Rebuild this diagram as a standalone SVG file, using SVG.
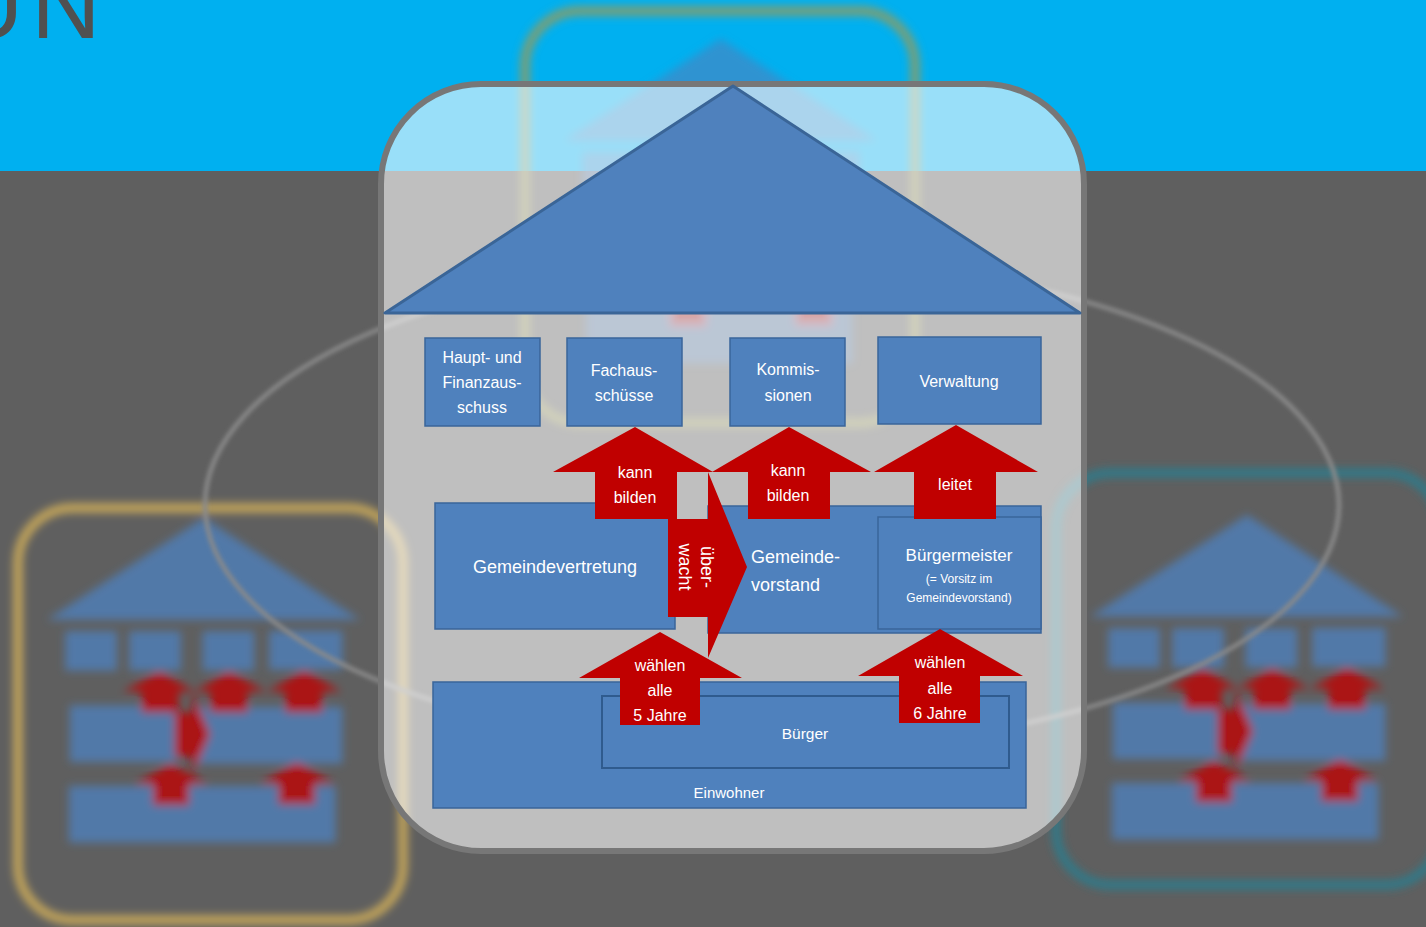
<svg xmlns="http://www.w3.org/2000/svg" width="1426" height="927" viewBox="0 0 1426 927">
<defs>
<style>
.box{fill:#4F81BD;stroke:#3A659A;stroke-width:1.5}
.inner{fill:#4F81BD;stroke:#2F5B8E;stroke-width:2}
.arrow{fill:#C00000}
.lbl{font-family:'Liberation Sans',Arial,sans-serif;fill:#FFFFFF;text-anchor:middle}
.mbox{fill:#4F81BD}
.marrow{fill:#C00000}
</style>
<filter id="blurS" x="-10%" y="-10%" width="120%" height="120%"><feGaussianBlur stdDeviation="4.5"/></filter>
<filter id="blurL" x="-5%" y="-5%" width="110%" height="110%"><feGaussianBlur stdDeviation="2"/></filter>
<g id="mini">
<polygon class="mbox" points="733,86 385,313 1080,313"/>
<rect class="mbox" x="425" y="338" width="115" height="88"/>
<rect class="mbox" x="567" y="338" width="115" height="88"/>
<rect class="mbox" x="730" y="338" width="115" height="88"/>
<rect class="mbox" x="878" y="337" width="163" height="87"/>
<rect class="mbox" x="435" y="503" width="240" height="126"/>
<rect class="mbox" x="708" y="506" width="333" height="127"/>
<rect class="mbox" x="433" y="682" width="593" height="126"/>
<polygon class="marrow" points="635,427 713,472 677,472 677,519 595,519 595,472 553,472"/>
<polygon class="marrow" points="789,427 871,472 830,472 830,519 748,519 748,472 712,472"/>
<polygon class="marrow" points="956,425 1038,472 996,472 996,519 914,519 914,472 874,472"/>
<polygon class="marrow" points="668,519 708,519 708,472 747,567 708,658 708,617 668,617"/>
<polygon class="marrow" points="660,632 742,678 700,678 700,725 620,725 620,678 579,678"/>
<polygon class="marrow" points="940,629 1023,676 980,676 980,723 899,723 899,676 858,676"/>
</g>
</defs>

<g id="background">
<rect x="0" y="0" width="1426" height="927" fill="#5F5F5F"/>
<rect x="0" y="0" width="1426" height="171" fill="#00B0F0"/>
<text x="-46" y="38" font-family="'Liberation Sans',Arial,sans-serif" font-size="96" letter-spacing="8" fill="#505050">UN</text>
</g>

<g id="card-top" filter="url(#blurS)">
<use href="#mini" transform="translate(391,0) scale(0.45)" opacity="0.6"/>
<rect x="525" y="11" width="390" height="412" rx="55" fill="none" stroke="#9A9A55" stroke-width="9" opacity="0.85"/>
</g>
<g id="card-left" filter="url(#blurS)">
<use href="#mini" transform="translate(-126,479) scale(0.45)" opacity="0.78"/>
<rect x="18" y="508" width="385" height="412" rx="55" fill="none" stroke="#C8A85A" stroke-width="9"/>
</g>
<g id="card-right" filter="url(#blurS)">
<use href="#mini" transform="translate(917,476) scale(0.45)" opacity="0.78"/>
<rect x="1056" y="473" width="385" height="412" rx="55" fill="none" stroke="#2D7A8A" stroke-width="9"/>
</g>
<ellipse id="orbit" cx="772" cy="505" rx="567" ry="244" fill="none" stroke="#8A8A8A" stroke-width="4.5" filter="url(#blurL)"/>

<g id="card-main">
<rect x="381" y="84" width="703" height="767" rx="100" fill="#FFFFFF" fill-opacity="0.6" stroke="#777777" stroke-width="6"/>
</g>

<g id="node-roof">
<polygon points="733,86 385,313 1080,313" fill="#4F81BD" stroke="#3A6597" stroke-width="3" stroke-linejoin="round"/>
</g>

<g id="node-haupt">
<rect class="box" x="425" y="338" width="115" height="88"/>
<text class="lbl" font-size="16" x="482" y="363">Haupt- und</text>
<text class="lbl" font-size="16" x="482" y="388">Finanzaus-</text>
<text class="lbl" font-size="16" x="482" y="413">schuss</text>
</g>
<g id="node-fach">
<rect class="box" x="567" y="338" width="115" height="88"/>
<text class="lbl" font-size="16" x="624" y="376">Fachaus-</text>
<text class="lbl" font-size="16" x="624" y="401">schüsse</text>
</g>
<g id="node-komm">
<rect class="box" x="730" y="338" width="115" height="88"/>
<text class="lbl" font-size="16" x="788" y="375">Kommis-</text>
<text class="lbl" font-size="16" x="788" y="401">sionen</text>
</g>
<g id="node-verw">
<rect class="box" x="878" y="337" width="163" height="87"/>
<text class="lbl" font-size="16" x="959" y="387">Verwaltung</text>
</g>
<g id="node-gvertretung">
<rect class="box" x="435" y="503" width="240" height="126"/>
<text class="lbl" font-size="18" x="555" y="573">Gemeindevertretung</text>
</g>
<g id="node-gvorstand">
<rect class="box" x="708" y="506" width="333" height="127"/>
<text class="lbl" font-size="18" x="751" y="563" style="text-anchor:start">Gemeinde-</text>
<text class="lbl" font-size="18" x="751" y="591" style="text-anchor:start">vorstand</text>
</g>
<g id="node-bgm">
<rect class="box" x="878" y="517" width="163" height="112"/>
<text class="lbl" font-size="17" x="959" y="561">Bürgermeister</text>
<text class="lbl" font-size="12" x="959" y="583">(= Vorsitz im</text>
<text class="lbl" font-size="12" x="959" y="602">Gemeindevorstand)</text>
</g>
<g id="node-einwohner">
<rect class="box" x="433" y="682" width="593" height="126"/>
<text class="lbl" font-size="15" x="729" y="798">Einwohner</text>
</g>
<g id="node-buerger">
<rect class="inner" x="602" y="696" width="407" height="72"/>
<text class="lbl" font-size="15.5" x="805" y="739">Bürger</text>
</g>

<g id="connectors">
<g id="arrow-kann-bilden-1">
<polygon class="arrow" points="635,427 713,472 677,472 677,519 595,519 595,472 553,472"/>
<text class="lbl" font-size="16" x="635" y="478">kann</text>
<text class="lbl" font-size="16" x="635" y="503">bilden</text>
</g>
<g id="arrow-kann-bilden-2">
<polygon class="arrow" points="789,427 871,472 830,472 830,519 748,519 748,472 712,472"/>
<text class="lbl" font-size="16" x="788" y="476">kann</text>
<text class="lbl" font-size="16" x="788" y="501">bilden</text>
</g>
<g id="arrow-leitet">
<polygon class="arrow" points="956,425 1038,472 996,472 996,519 914,519 914,472 874,472"/>
<text class="lbl" font-size="16" x="955" y="490">leitet</text>
</g>
<g id="arrow-ueberwacht">
<polygon class="arrow" points="668,519 708,519 708,472 747,567 708,658 708,617 668,617"/>
<g transform="translate(696,567) rotate(90)">
<text class="lbl" font-size="18" x="0" y="-5">über-</text>
<text class="lbl" font-size="18" x="0" y="17">wacht</text>
</g>
</g>
<g id="arrow-waehlen-5">
<polygon class="arrow" points="660,632 742,678 700,678 700,725 620,725 620,678 579,678"/>
<text class="lbl" font-size="16" x="660" y="671">wählen</text>
<text class="lbl" font-size="16" x="660" y="696">alle</text>
<text class="lbl" font-size="16" x="660" y="721">5 Jahre</text>
</g>
<g id="arrow-waehlen-6">
<polygon class="arrow" points="940,629 1023,676 980,676 980,723 899,723 899,676 858,676"/>
<text class="lbl" font-size="16" x="940" y="668">wählen</text>
<text class="lbl" font-size="16" x="940" y="694">alle</text>
<text class="lbl" font-size="16" x="940" y="719">6 Jahre</text>
</g>
</g>
</svg>
